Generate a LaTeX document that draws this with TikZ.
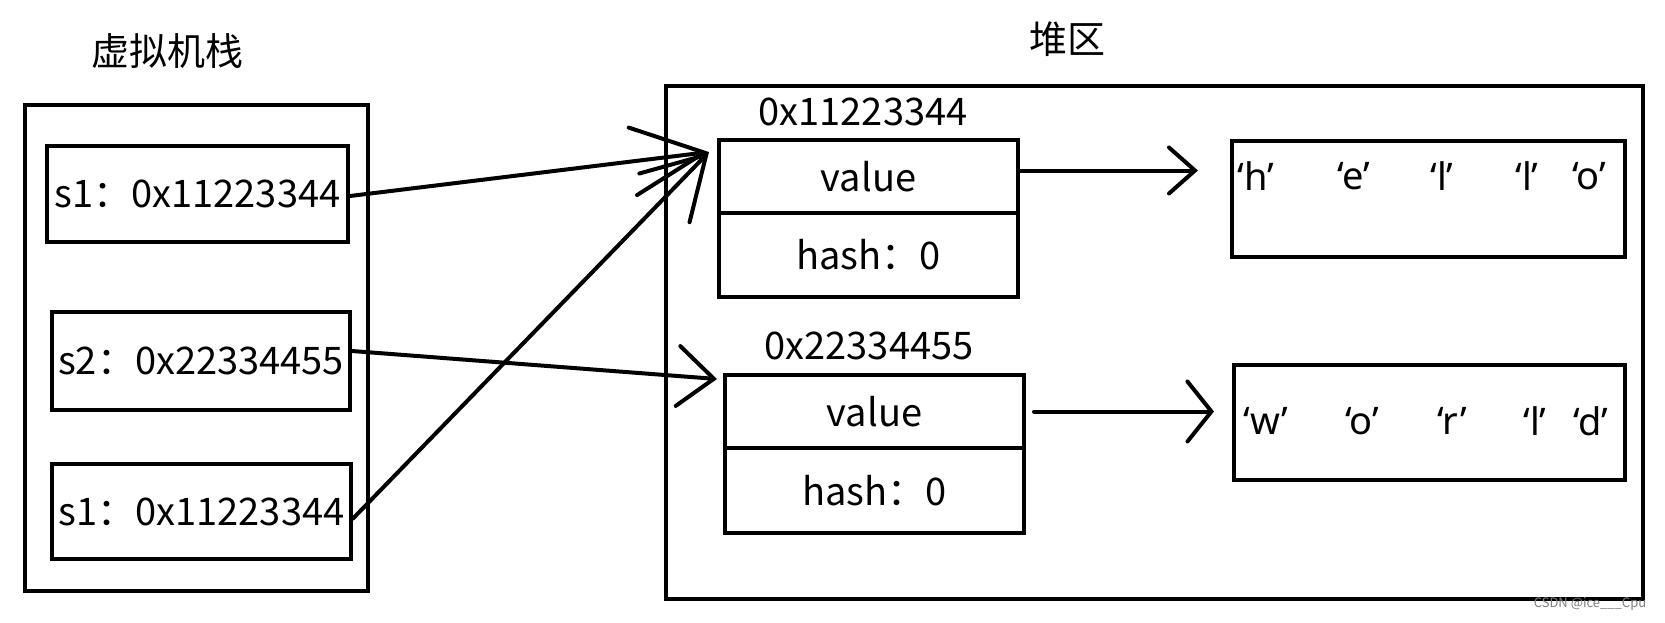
\documentclass[tikz,border=0pt]{standalone}
\usepackage{fontspec}
\setmainfont{Noto Sans CJK SC}
\newfontfamily\latinf{Noto Sans}
\usetikzlibrary{arrows.meta,calc}
\begin{document}
\begin{tikzpicture}[x=1pt,y=-1pt,
  box/.style={draw,line width=4pt,inner sep=0pt,anchor=north west},
  lbl/.style={font=\fontsize{38}{42}\selectfont,inner sep=0pt},
  chr/.style={font=\latinf\fontsize{38}{42}\selectfont,inner sep=0pt},
  ptr/.style 2 args={line width=4pt,line cap=round,-{Straight Barb[length=#1,width=#2,line cap=round]}},
]
\useasboundingbox[fill=white] (0,0) rectangle (1665,622);
% stack
\node[box,minimum width=343pt,minimum height=486pt] (stack) at (23,103) {};
\node[lbl] (stitle) at (167,51) {虚拟机栈};
\node[box,lbl,minimum width=301pt,minimum height=96pt] (s1) at (45,144) {s1：0x11223344};
\node[box,lbl,minimum width=298pt,minimum height=98pt] (s2) at (50,310) {s2：0x22334455};
\node[box,lbl,minimum width=299pt,minimum height=95pt] (s3) at (50,462) {s1：0x11223344};
% heap
\node[box,minimum width=977pt,minimum height=513pt] (heap) at (664,84) {};
\node[lbl] (htitle) at (1067,39) {堆区};
\node[lbl] (a1) at (863,112) {0x11223344};
\node[box,lbl,minimum width=299pt,minimum height=73pt] (o1v) at (717,138) {value};
\node[box,lbl,minimum width=299pt,minimum height=84pt] (o1h) at (717,211) {hash：0};
\node[lbl] (a2) at (869,346) {0x22334455};
\node[box,lbl,minimum width=299pt,minimum height=73pt] (o2v) at (723,373) {value};
\node[box,lbl,minimum width=299pt,minimum height=85pt] (o2h) at (723,446) {hash：0};
\node[box,minimum width=393pt,minimum height=116pt] (arr1) at (1230,139) {};
\node[box,minimum width=391pt,minimum height=115pt] (arr2) at (1232,363) {};
\node[chr] (c11) at (1256,176) {‘h’};
\node[chr] (c12) at (1354,176) {‘e’};
\node[chr] (c13) at (1442,176) {‘l’};
\node[chr] (c14) at (1527,176) {‘l’};
\node[chr] (c15) at (1589,176) {‘o’};
\node[chr] (c21) at (1266,421) {‘w’};
\node[chr] (c22) at (1362,421) {‘o’};
\node[chr] (c23) at (1452,421) {‘r’};
\node[chr] (c24) at (1535,421) {‘l’};
\node[chr] (c25) at (1591,421) {‘d’};
\node[font=\fontsize{13}{14}\selectfont,text=gray,inner sep=0pt] (wm) at (1590,604) {CSDN @ice\_\_\_Cpu};
% pointers
\coordinate (t1) at (709,152);
\coordinate (t2) at (717,379);
\draw[ptr={72pt}{68pt}] ($(s1.east)+(0,2)$) -- (t1);
\draw[ptr={60pt}{70pt}] ($(s3.east)+(0,7)$) -- (t1);
\draw[ptr={36pt}{60pt}] ($(s2.east)+(0,-10)$) -- (t2);
\draw[ptr={26pt}{46pt},shorten >=32pt] ($(o1v.east)+(0,-6)$) -- ($(o1v.east -| arr1.west)+(0,-6)$);
\draw[ptr={24pt}{60pt},shorten <=8pt,shorten >=18pt] (o2v.east) -- (o2v.east -| arr2.west);
\end{tikzpicture}
\end{document}
